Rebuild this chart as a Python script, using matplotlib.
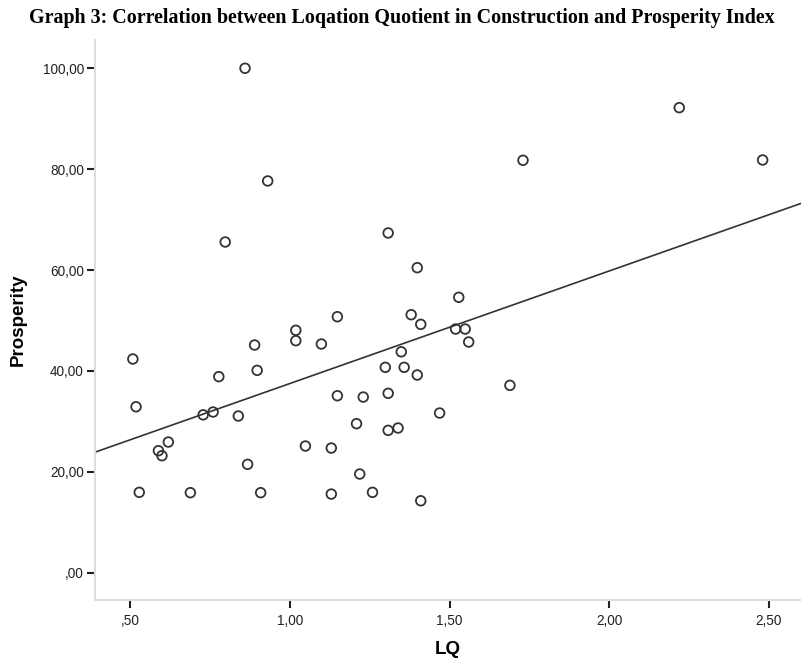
import numpy as np
from matplotlib import pyplot as plt

# LQ (location quotient in construction) vs prosperity index
lq = [0.798, 1.149, 1.019, 1.019, 0.890, 1.099, 0.509, 0.778, 0.898, 1.149,
      0.519, 0.729, 0.760, 0.839, 0.620, 0.589, 0.600, 1.049, 1.130, 0.868,
      0.529, 0.689, 0.909, 1.130,
      1.308, 1.399, 1.529, 1.380, 1.410, 1.519, 1.549, 1.560, 1.349, 1.299,
      1.358, 1.399, 1.689, 1.230, 1.308, 1.469, 1.209, 1.308, 1.339, 1.219,
      1.259, 1.410,
      0.860, 0.931, 2.219, 1.730, 2.480]
prosperity = [65.56, 50.75, 48.06, 46.00, 45.14, 45.34, 42.37, 38.87, 40.12, 35.09,
              32.90, 31.30, 31.86, 31.07, 25.91, 24.19, 23.20, 25.12, 24.72, 21.49,
              15.94, 15.87, 15.87, 15.60,
              67.35, 60.47, 54.60, 51.15, 49.24, 48.31, 48.31, 45.74, 43.80, 40.72,
              40.72, 39.20, 37.15, 34.83, 35.57, 31.66, 29.55, 28.23, 28.69, 19.57,
              15.94, 14.27,
              100.00, 77.66, 92.19, 81.76, 81.82]

xticks = [0.5, 1.0, 1.5, 2.0, 2.5]
xticklabels = [',50', '1,00', '1,50', '2,00', '2,50']
yticks = [0, 20, 40, 60, 80, 100]
yticklabels = [',00', '20,00', '40,00', '60,00', '80,00', '100,00']

x_lo, x_hi = 0.3905, 2.60
y_lo, y_hi = -5.4, 105.6

fig = plt.figure(figsize=(8.01, 6.6), dpi=100)
ax = fig.add_axes([95 / 801, 60 / 660, 706 / 801, 560 / 660])

ax.scatter(lq, prosperity, s=48, facecolors='none', edgecolors='#333333',
           linewidths=1.3, zorder=3)

# linear fit line across the whole axis
slope, intercept = np.polyfit(lq, prosperity, 1)
xs = np.array([x_lo, x_hi])
ax.plot(xs, intercept + slope * xs, color='#333333', linewidth=1.2, zorder=2)

ax.set_xlim(x_lo, x_hi)
ax.set_ylim(y_lo, y_hi)
ax.set_xticks(xticks)
ax.set_xticklabels(xticklabels)
ax.set_yticks(yticks)
ax.set_yticklabels(yticklabels)

for side in ['top', 'right']:
    ax.spines[side].set_visible(False)
for side in ['left', 'bottom']:
    ax.spines[side].set_color('#dddddd')
    ax.spines[side].set_linewidth(1.5)

ax.tick_params(axis='both', direction='out', length=6, width=1.5, color='#222222',
               labelsize=9.8, labelcolor='#222222')
ax.tick_params(axis='y', pad=2)
ax.tick_params(axis='x', pad=4)
for lab in ax.get_xticklabels() + ax.get_yticklabels():
    lab.set_family('Liberation Sans')

ax.set_xlabel('LQ', fontsize=13.5, fontweight='bold', family='Liberation Sans', va='center')
ax.set_ylabel('Prosperity', fontsize=13.5, fontweight='bold', family='Liberation Sans', va='center')
ax.xaxis.set_label_coords(0.5, -50 / 560)
ax.yaxis.set_label_coords(-77 / 706, 0.5)

fig.text(402 / 801, 1 - 18 / 660,
         'Graph 3: Correlation between Loqation Quotient in Construction and Prosperity Index',
         ha='center', va='center', fontsize=14.4, fontweight='bold', family='Liberation Serif')

fig.savefig('out.png', dpi=100)
